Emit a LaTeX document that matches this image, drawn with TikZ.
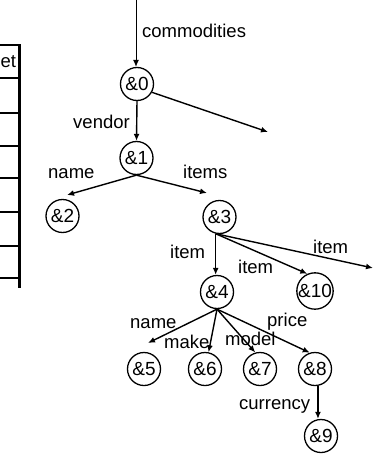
\documentclass[tikz,border=0pt]{standalone}
\usepackage{fontspec}
\setmainfont{Liberation Sans}
\usetikzlibrary{arrows.meta}
\begin{document}
\begin{tikzpicture}[x=1pt,y=-1pt,
  nd/.style={circle,draw,line width=1.3pt,minimum size=33pt,inner sep=0pt,font=\fontsize{19}{19}\selectfont},
  lbl/.style={font=\fontsize{18.5}{18.5}\selectfont,inner sep=0pt,anchor=base west},
  edge/.style={line width=1.4pt,-{Latex[length=7pt,width=6pt]}},
  tbl/.style={line width=1.3pt}]
\useasboundingbox (0,0) rectangle (373,458);
\clip (0,0) rectangle (373,458);
% partial table at the left edge
\foreach \y in {45,78,113,146,178,212,246,278} \draw[tbl] (-1,\y) -- (19,\y);
\draw[line width=3pt] (19.5,44) -- (19.5,288);
\node[lbl] (et) at (0.5,67) {et};
% nodes
\coordinate (top) at (136,0);
\node[nd] (n0) at (137,84) {\&0};
\node[nd] (n1) at (136.5,158) {\&1};
\node[nd] (n2) at (62.5,216) {\&2};
\node[nd] (n3) at (219.5,217) {\&3};
\node[nd] (n4) at (217,292) {\&4};
\node[nd] (n10) at (315,291) {\&10};
\node[nd] (n5) at (144,369) {\&5};
\node[nd] (n6) at (205,369) {\&6};
\node[nd] (n7) at (260,369) {\&7};
\node[nd] (n8) at (315,369) {\&8};
\node[nd] (n9) at (321,436) {\&9};
% free ends
\coordinate (r0) at (268,132);
\coordinate (t2) at (67,195);
\coordinate (t3) at (207,193);
\coordinate (r3) at (373,268);
\coordinate (t5) at (148,343);
% edges
\draw[edge,line width=1pt] (top) -- (top |- n0.north);
\draw[edge] (n0.-29) -- (r0);
\draw[edge] (n0.south) -- (n1.north);
\draw[edge] (n1.south) -- (t2);
\draw[edge] (n1.south) -- (t3);
\draw[edge] (n3.-103) -- (n3.-103 |- n4.north);
\draw[edge] (n3.-103) -- (n10.114);
\draw[edge] (n3.-103) -- (r3);
\draw[edge] (n4.south) -- (t5);
\draw[edge] (n4.south) -- (n6.78);
\draw[edge] (n4.south) -- (n7.106);
\draw[edge] (n4.south) -- (n8.108);
\draw[edge] (n8.-80) -- (n8.-80 |- n9.north);
% labels
\node[lbl] (lcom) at (142,37) {commodities};
\node[lbl,anchor=base east] (lven) at (130,128) {vendor};
\node[lbl] (lname1) at (48,178) {name};
\node[lbl] (litems) at (183,178) {items};
\node[lbl] (lit1) at (170,258) {item};
\node[lbl] (lit2) at (238,273) {item};
\node[lbl] (lit3) at (313,253) {item};
\node[lbl] (lname2) at (130,328) {name};
\node[lbl] (lmake) at (164,348) {make};
\node[lbl] (lmodel) at (225,345) {model};
\node[lbl] (lprice) at (267,326) {price};
\node[lbl] (lcur) at (239,409) {currency};
\end{tikzpicture}
\end{document}
